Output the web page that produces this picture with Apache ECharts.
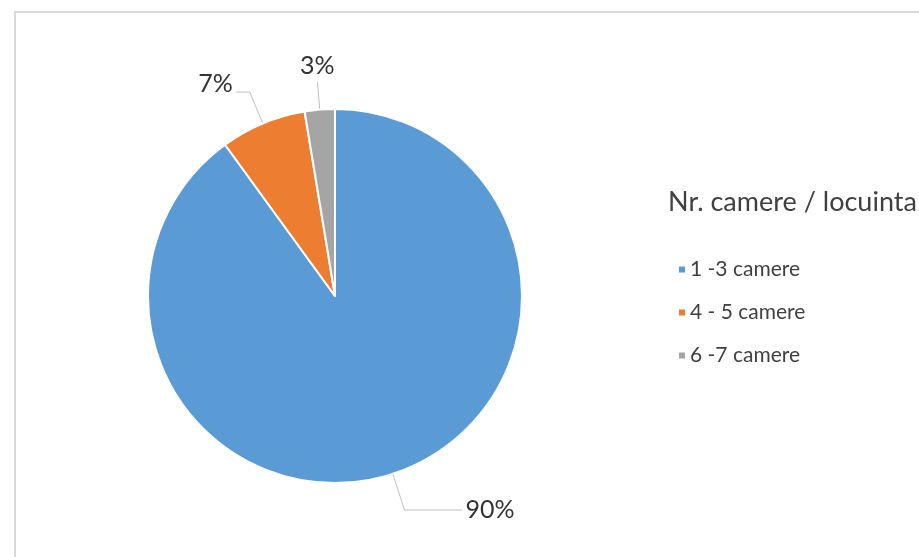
<!DOCTYPE html>
<html>
<head>
<meta charset="utf-8">
<script src="https://cdn.jsdelivr.net/npm/echarts@6/dist/echarts.min.js"></script>
<style>
html,body{margin:0;padding:0;background:#fff;}
#c{width:919px;height:557px;}
</style>
</head>
<body>
<div id="c"></div>
<script>
var titleText = 'Nr. camere / locuinta';
var categories = ['1 -3 camere', '4 - 5 camere', '6 -7 camere'];
var values = [90.0, 7.4, 2.6];
var colors = ['#5B9BD5', '#ED7D31', '#A5A5A5'];

var chart = echarts.init(document.getElementById('c'));
var lineLen = [38, 34, 28];
var lineLen2 = [58, 14, 0];
var data = categories.map(function (n, i) {
  return {
    name: n,
    value: values[i],
    itemStyle: { color: colors[i] },
    labelLine: { length: lineLen[i], length2: lineLen2[i] }
  };
});
chart.setOption({
  animation: false,
  graphic: [{
    type: 'rect',
    shape: { x: 15, y: 12, width: 1000, height: 1000 },
    style: { fill: 'none', stroke: '#d9d9d9', lineWidth: 2 },
    silent: true
  }],
  title: {
    text: titleText,
    left: 668,
    top: 189,
    padding: 0,
    textStyle: { fontFamily: 'Lato', fontSize: 27, fontWeight: 'normal', color: '#404040' }
  },
  legend: {
    orient: 'vertical',
    left: 677,
    top: 259,
    padding: 0,
    icon: 'rect',
    itemWidth: 8,
    itemHeight: 8,
    itemGap: 22,
    data: categories,
    textStyle: { fontFamily: 'Lato', fontSize: 21, color: '#404040', lineHeight: 20, padding: [0, 0, 0, -1] }
  },
  series: [{
    type: 'pie',
    center: [335, 296],
    radius: 187,
    startAngle: 90,
    clockwise: true,
    avoidLabelOverlap: false,
    data: data,
    itemStyle: { borderColor: '#fff', borderWidth: 2 },
    label: {
      show: true,
      position: 'outside',
      formatter: function (p) { return Math.round(p.percent) + '%'; },
      fontFamily: 'Lato',
      fontSize: 25,
      color: '#333',
      distanceToLabelLine: 3
    },
    labelLine: { show: true, lineStyle: { color: '#bfbfbf', width: 1 } },
    labelLayout: function (p) {
      if (p.dataIndex === 2) {
        return { dx: 20, dy: -16 };
      }
      if (p.dataIndex === 1) {
        return { dy: -8 };
      }
      return {};
    }
  }]
});
</script>
</body>
</html>
